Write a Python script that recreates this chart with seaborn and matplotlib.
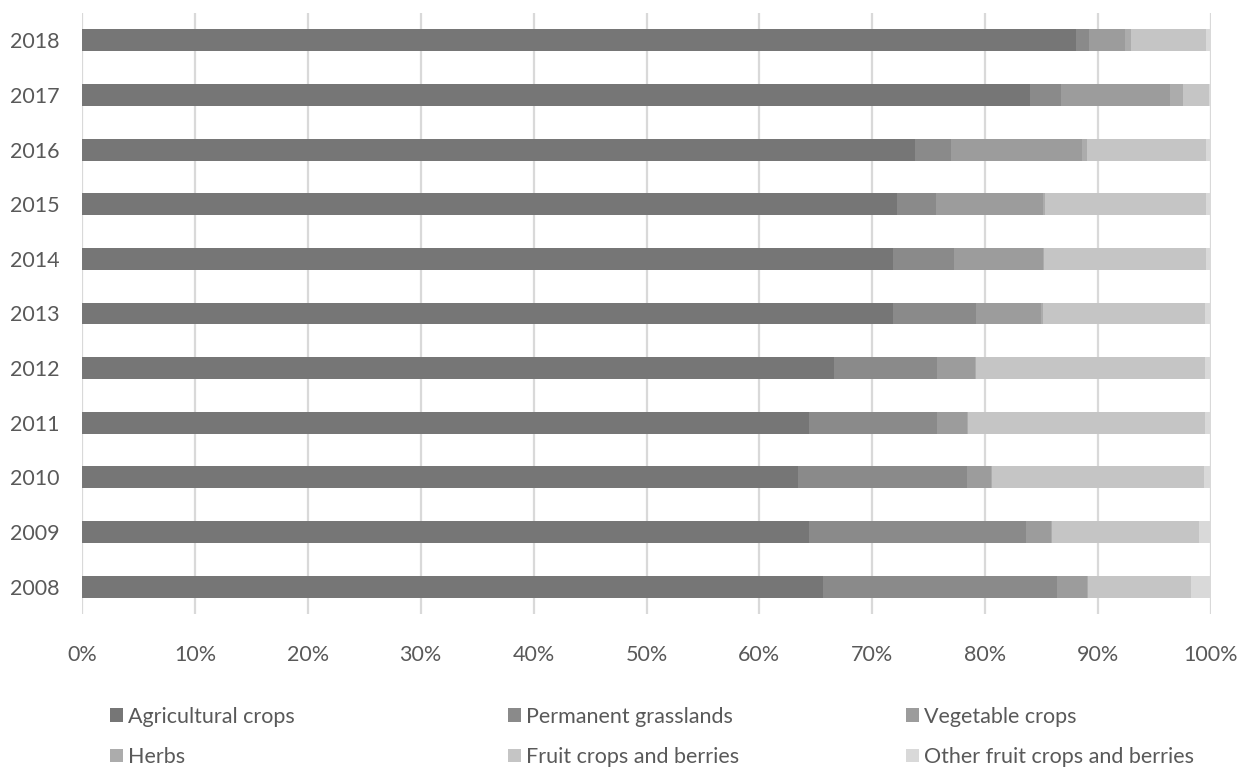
import matplotlib
matplotlib.use("Agg")
import matplotlib.pyplot as plt
from matplotlib.patches import Patch
import numpy as np
import pandas as pd
import seaborn as sns

# Share of organic farmland by type of use, per year (percent)
years = ["2018", "2017", "2016", "2015", "2014", "2013",
         "2012", "2011", "2010", "2009", "2008"]
agricultural = [88.0, 84.0, 73.8, 72.2, 71.8, 71.8, 66.6, 64.4, 63.4, 64.4, 65.6]
grasslands = [1.2, 2.7, 3.2, 3.4, 5.4, 7.4, 9.1, 11.3, 15.0, 19.2, 20.8]
vegetables = [3.2, 9.7, 11.6, 9.5, 7.9, 5.7, 3.4, 2.7, 2.1, 2.2, 2.6]
herbs = [0.5, 1.1, 0.4, 0.2, 0.1, 0.2, 0.1, 0.1, 0.1, 0.1, 0.1]
fruit = [6.7, 2.3, 10.6, 14.3, 14.4, 14.4, 20.3, 21.0, 18.8, 13.0, 9.1]
other_fruit = [0.4, 0.2, 0.4, 0.4, 0.4, 0.5, 0.5, 0.5, 0.6, 1.1, 1.8]

series_names = ["Agricultural crops", "Permanent grasslands", "Vegetable crops",
                "Herbs", "Fruit crops and berries", "Other fruit crops and berries"]
series_values = [agricultural, grasslands, vegetables, herbs, fruit, other_fruit]
colors = ["#767676", "#8a8a8a", "#9c9c9c", "#acacac", "#c5c5c5", "#d9d9d9"]

sns.set_theme(style="white")
plt.rcParams["font.family"] = ["Lato", "DejaVu Sans"]
text_color = "#595959"
font_size = 15.5

df = pd.DataFrame(dict(zip(series_names, series_values)), index=years)
share = df.div(df.sum(axis=1), axis=0) * 100
cum = share.cumsum(axis=1)

fig = plt.figure(figsize=(12.45, 7.69), dpi=100)
ax = fig.add_axes([82 / 1245, 1 - 614 / 769, (1211 - 82) / 1245, (614 - 13) / 769])

# Stacked bars: draw cumulative totals from the outermost segment inwards
for name, color in reversed(list(zip(series_names, colors))):
    data = pd.DataFrame({"year": years, "value": cum[name].values})
    sns.barplot(data=data, x="value", y="year", order=years, orient="h",
                color=color, saturation=1, width=0.4, linewidth=0, ax=ax)

ax.set_xlim(0, 100)
ax.set_xticks(np.arange(0, 101, 10))
ax.set_xticklabels([f"{t}%" for t in range(0, 101, 10)])
ax.xaxis.grid(True, color="#d9d9d9", linewidth=1.6)
ax.set_axisbelow(True)
for s in ax.spines.values():
    s.set_visible(False)
ax.set_xlabel("")
ax.set_ylabel("")
ax.tick_params(axis="both", colors=text_color, labelsize=font_size, length=0)
ax.tick_params(axis="x", pad=22)
ax.tick_params(axis="y", pad=16)

# Legend: three columns, two rows
handles = [Patch(facecolor=c, edgecolor="none") for c in colors]
col_x = [110, 508, 906]
for i, x in enumerate(col_x):
    idx = [i, i + 3]
    fig.legend([handles[j] for j in idx], [series_names[j] for j in idx],
               loc="center left", bbox_to_anchor=(x / 1245, 1 - 737 / 769),
               frameon=False, fontsize=font_size, labelcolor=text_color,
               handlelength=0.6, handleheight=0.6, handletextpad=0.25,
               labelspacing=0.95, borderpad=0, borderaxespad=0)

fig.savefig("out.png", dpi=100, facecolor="white")
